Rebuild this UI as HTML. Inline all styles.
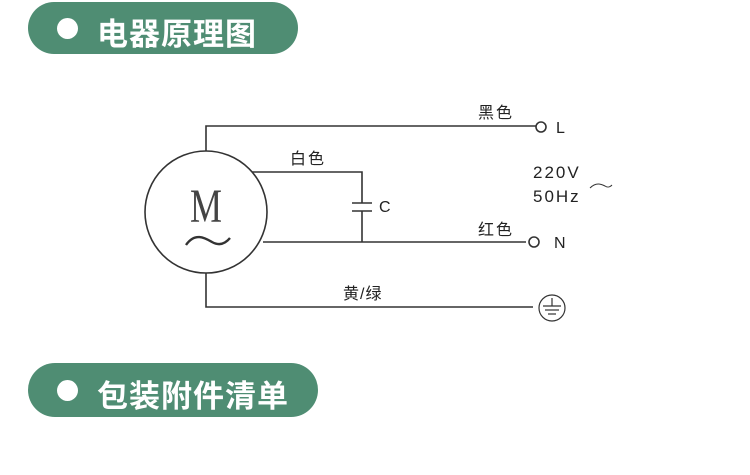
<!DOCTYPE html>
<html><head><meta charset="utf-8"><style>
body{margin:0;width:750px;height:475px;background:#fff;overflow:hidden;position:relative}
.pill{position:absolute;left:28px;background:#4f8d73;border-radius:27px;color:#fff;font-family:"Liberation Sans","Noto Sans CJK SC",sans-serif;font-size:31px;font-weight:bold}
.pill .dot{position:absolute;left:29px;width:21px;height:21px;border-radius:50%;background:#fff}
.pill span{position:absolute;left:69px;letter-spacing:1px}
</style></head><body>
<div class="pill" style="top:2px;width:270px;height:52px"><div class="dot" style="top:16px"></div><span style="top:7px">电器原理图</span></div>
<div class="pill" style="top:363px;width:290px;height:54px"><div class="dot" style="top:17px"></div><span style="top:8px">包装附件清单</span></div>
<svg width="750" height="475" style="position:absolute;left:0;top:0" font-family="Liberation Sans, Noto Sans CJK SC, sans-serif" fill="none" stroke="#333" stroke-width="1.6">
<polyline points="206,151 206,126 536,126"/>
<circle cx="541" cy="127" r="5"/>
<circle cx="206" cy="212" r="61"/>
<polyline points="252,172 362,172 362,203"/>
<line x1="352" y1="203" x2="372" y2="203"/>
<line x1="352" y1="211" x2="372" y2="211"/>
<polyline points="362,211 362,242"/>
<line x1="263" y1="242" x2="526" y2="242"/>
<circle cx="534" cy="242" r="5"/>
<polyline points="206,273 206,307 533,307"/>
<circle cx="552" cy="308" r="13" stroke-width="1.2"/>
<line x1="552" y1="298" x2="552" y2="306" stroke-width="1.2"/>
<line x1="543" y1="306" x2="561" y2="306" stroke-width="1.2"/>
<line x1="545" y1="310" x2="559" y2="310" stroke-width="1.2"/>
<line x1="548" y1="314" x2="556" y2="314" stroke-width="1.2"/>
<path d="M186,245 C195,232 205,238 212,242 C219,246 225,244 230,238" stroke-width="2.4"/>
<path d="M590,188 C596,182 601,184 605,186 C608,188 610,187 612,185" stroke-width="1"/>
<g fill="#222" stroke="none" font-size="16">
<text x="206" y="222" font-family="Liberation Serif, serif" font-size="48" text-anchor="middle" transform="translate(206,0) scale(0.75,1) translate(-206,0)" fill="#444">M</text>
<text x="290" y="164" letter-spacing="2">白色</text>
<text x="379" y="212">C</text>
<text x="478" y="118" letter-spacing="2">黑色</text>
<text x="556" y="133">L</text>
<text x="533" y="178" letter-spacing="2" font-size="17">220V</text>
<text x="533" y="202" letter-spacing="2" font-size="17">50Hz</text>
<text x="478" y="235" letter-spacing="2">红色</text>
<text x="554" y="248">N</text>
<text x="343" y="299" letter-spacing="1">黄/绿</text>
</g>
</svg>
</body></html>
